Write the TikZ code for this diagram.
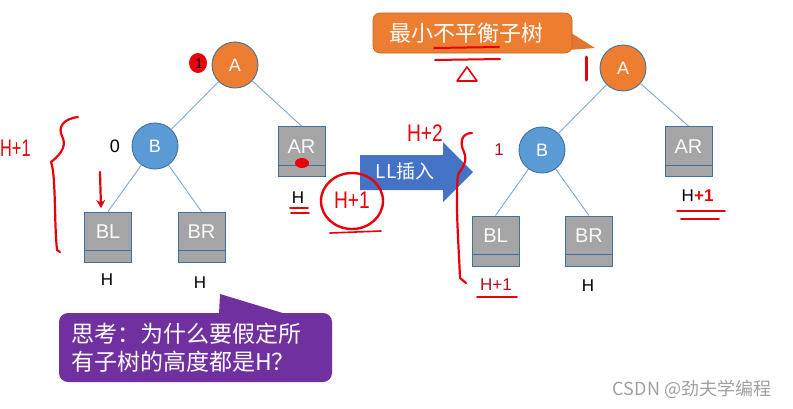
\documentclass[tikz,border=0pt]{standalone}
\usepackage{fontspec}
\usepackage{graphicx}
\setmainfont{Liberation Sans}
\newfontfamily\cjk{Noto Sans CJK SC}
\usetikzlibrary{calc,arrows.meta}
\definecolor{aorange}{HTML}{ED7D31}
\definecolor{bblue}{HTML}{5B9BD5}
\definecolor{outl}{HTML}{41719C}
\definecolor{boxgray}{HTML}{A5A5A5}
\definecolor{edgeblue}{HTML}{7FA8D6}
\definecolor{cpurple}{HTML}{7030A0}
\definecolor{arrblue}{HTML}{4472C4}
\definecolor{hand}{HTML}{E8000B}
\definecolor{dred}{HTML}{B01020}
\definecolor{wmgray}{HTML}{A0A0A0}
\begin{document}
\begin{tikzpicture}[x=1pt,y=-1pt,
  circ/.style={circle, minimum size=46pt, inner sep=0pt, draw=outl, line width=0.9pt, text=white, font=\fontsize{18}{18}\selectfont},
  subtree/.style={rectangle, minimum width=47pt, minimum height=50pt, inner sep=0pt, fill=boxgray, draw=outl, line width=0.9pt},
  boxtxt/.style={text=white!95!gray, font=\fontsize{20}{20}\selectfont, inner sep=0pt},
  hlab/.style={font=\fontsize{17}{17}\selectfont, inner sep=0pt},
  edge/.style={draw=edgeblue, line width=0.9pt},
  handw/.style={draw=hand, line width=2.2pt, line cap=round, line join=round},
  handtxt/.style={text=hand, font=\fontsize{24}{24}\selectfont, inner sep=0pt}
]
\useasboundingbox (0,0) rectangle (793,408);
\fill[white] (0,0) rectangle (793,408);

% ---------- left tree ----------
\node[circ, fill=aorange] (la) at (235,65) {A};
\node[circ, fill=bblue] (lb) at (155,146) {B};
\node[subtree] (lar) at (301.5,151.5) {};
\node[subtree] (lbl) at (108,237) {};
\node[subtree] (lbr) at (201.5,237) {};
\foreach \n/\t in {lar/AR,lbl/BL,lbr/BR}{
  \draw[outl, line width=0.9pt] ($(\n.south west)+(0,-12)$) -- ($(\n.south east)+(0,-12)$);
  \node[boxtxt] (\n t) at ($(\n.center)+(0,-5)$) {\t};
}
\draw[edge] (la) -- (lb);
\draw[edge] (la) -- (lar.north);
\draw[edge] (lb) -- (lbl.north);
\draw[edge] (lb) -- (lbr.north);
\node[hlab, font=\fontsize{18}{18}\selectfont] (lbz) at (115,146) {0};
\node[hlab] (larh) at (298,198) {H};
\node[hlab] (lblh) at (107,280) {H};
\node[hlab] (lbrh) at (200,283) {H};

% purple callout
\fill[cpurple] (219,314) -- (220,294) -- (286,314) -- cycle;
\node[rectangle, rounded corners=9pt, fill=cpurple, minimum width=273pt, minimum height=69pt, inner sep=0pt] (think) at (195.5,347.5) {};
\node[text=white, align=left, font=\cjk\fontsize{23}{28}\selectfont, inner sep=0pt, anchor=west] (thinkt) at (71,348) {思考：为什么要假定所\\有子树的高度都是H？};

% ---------- arrow ----------
\fill[arrblue] (360,155) -- (443,155) -- (443,142) -- (473,172) -- (443,202) -- (443,190) -- (360,190) -- cycle;
\node[text=white, font=\cjk\fontsize{19}{19}\selectfont, inner sep=0pt] (ll) at (405,171) {LL插入};

% ---------- orange callout ----------
\fill[aorange!95!black] (568,31) -- (595,48) -- (568,50) -- cycle;
\node[rectangle, rounded corners=7pt, fill=aorange, draw=aorange!80!black, line width=0.6pt, minimum width=199pt, minimum height=40pt, inner sep=0pt] (minub) at (472.5,33) {};
\node[text=white, font=\cjk\fontsize{22}{22}\selectfont, inner sep=0pt] (minubt) at (466,33) {最小不平衡子树};

% ---------- right tree ----------
\node[circ, fill=aorange] (ra) at (623,68) {A};
\node[circ, fill=bblue] (rb) at (542,150) {B};
\node[subtree] (rar) at (688.5,151.5) {};
\node[subtree] (rbl) at (495.5,241) {};
\node[subtree] (rbr) at (589,241) {};
\foreach \n/\t in {rar/AR,rbl/BL,rbr/BR}{
  \draw[outl, line width=0.9pt] ($(\n.south west)+(0,-12)$) -- ($(\n.south east)+(0,-12)$);
  \node[boxtxt] (\n t) at ($(\n.center)+(0,-5)$) {\t};
}
\draw[edge] (ra) -- (rb);
\draw[edge] (ra) -- (rar.north);
\draw[edge] (rb) -- (rbl.north);
\draw[edge] (rb) -- (rbr.north);
\node[hlab, text=dred] (rbo) at (499,150) {1};
\node[hlab, anchor=east] (rarh) at (694,196) {H};
\node[hlab, text=dred] (rblh) at (496,285) {H+1};
\node[hlab] (rbrh) at (588,286) {H};

% ---------- handwritten annotations ----------
% left tree
\fill[hand] (198,63) ellipse (9 and 10);
\node[font=\fontsize{14}{14}\selectfont, inner sep=0pt] (lao) at (199,64) {1};
\fill[hand] (302,163) ellipse (7 and 5);
\node[handtxt, anchor=west] (lh1) at (0,148) {\scalebox{0.68}[1]{H+1}};
\draw[handw] (78,117) .. controls (62,119) and (58,128) .. (62,136)
  .. controls (66,144) and (64,152) .. (51,162)
  .. controls (56,175) and (54,220) .. (57,250) -- (60,252);
\draw[handw, -{Stealth[length=8pt,width=9pt]}] (100,172) -- (101,208);
\draw[hand, line width=1.6pt, line cap=round] (290,208) -- (308,208) (291,213) -- (309,213);
\draw[hand, line width=2.4pt] (352,201) ellipse (31 and 28);
\draw[hand, line width=1.6pt, line cap=round] (330,233) -- (381,231);
\node[handtxt] (lhc) at (352,200) {\scalebox{0.8}[1]{H+1}};

% arrow / right
\node[handtxt] (h2) at (425,133) {\scalebox{0.8}[1]{H+2}};
\draw[handw] (472,133) .. controls (462,133) and (459,142) .. (464,152)
  .. controls (468,162) and (462,168) .. (458,175)
  .. controls (455,200) and (459,250) .. (460,278) -- (466,283);
\draw[hand, line width=2pt, line cap=round] (434,48) -- (499,47) (435,60) -- (500,59);
\draw[hand, line width=1.6pt, line join=round] (467,67) -- (477,81) -- (457,81) -- cycle;
\draw[hand, line width=3pt, line cap=round] (586,57) -- (586,80);
\node[handtxt, anchor=west, font=\fontsize{17}{17}\selectfont\bfseries] (rp1) at (694,196) {+1};
\draw[hand, line width=1.8pt, line cap=round] (677,211) -- (725,211) (681,219) -- (719,219);
\draw[hand, line width=1.8pt, line cap=round] (477,297) -- (517,297);

% watermark
\node[text=wmgray, font=\cjk\fontsize{18}{18}\selectfont, inner sep=0pt] (wm) at (692,389) {CSDN @劲夫学编程};
\end{tikzpicture}
\end{document}
